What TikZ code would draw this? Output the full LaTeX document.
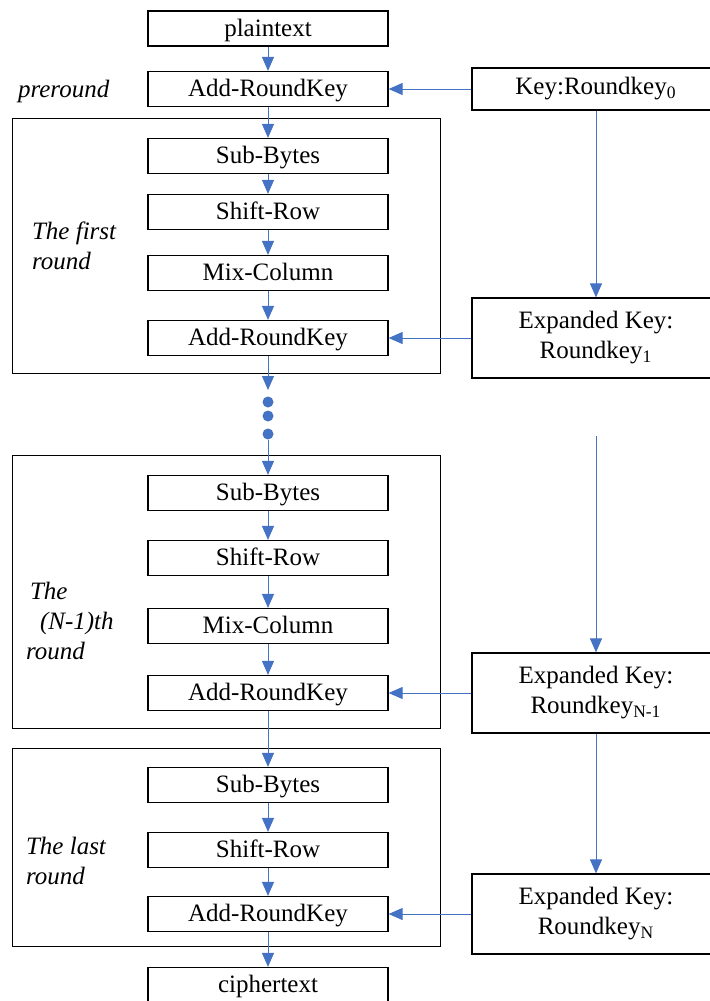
\documentclass[tikz,border=0pt]{standalone}
\usepackage{fontspec}
\setmainfont{Liberation Serif}
\usepackage{tikz}
\usetikzlibrary{arrows.meta,backgrounds}
\definecolor{flowblue}{RGB}{68,114,196}

\begin{document}
\begin{tikzpicture}[
  x=0.5pt, y=-0.5pt,
  font=\fontsize{12.5}{15}\selectfont,
  >={Triangle[width=6pt,length=7pt]},
  op/.style    ={rectangle, draw=black, line width=0.6pt, minimum width=120pt, minimum height=17.5pt, inner sep=0pt, text depth=1pt},
  keybox/.style={rectangle, draw=black, line width=0.6pt, minimum width=124pt, minimum height=40pt, align=center, inner sep=0pt},
  frame/.style ={rectangle, draw=black, line width=0.5pt, minimum width=214pt, inner sep=0pt},
  tag/.style   ={anchor=west, align=left, font=\fontsize{12.5}{15}\selectfont\itshape},
  flow/.style  ={->, draw=flowblue, line width=0.5pt},
  dot/.style   ={circle, fill=flowblue, minimum size=5.5pt, inner sep=0pt},
]
\useasboundingbox (0,0) rectangle (709,1001);
% round frames
\node[frame, minimum height=127.5pt] (rnd1) at (226,245.5) {};
\node[frame, minimum height=136.5pt] (rnd2) at (226,591.5) {};
\node[frame, minimum height=99pt]    (rnd3) at (226,847)   {};
% main column
\node[op] (plain) at (268,28.5) {plaintext};
\node[op] (ark0)  at (268,89)   {Add-RoundKey};
\node[op] (sb1)   at (268,156)  {Sub-Bytes};
\node[op] (sr1)   at (268,212)  {Shift-Row};
\node[op] (mc1)   at (268,273)  {Mix-Column};
\node[op] (ark1)  at (268,338)  {Add-RoundKey};
\node[op] (sb2)   at (268,493)  {Sub-Bytes};
\node[op] (sr2)   at (268,558)  {Shift-Row};
\node[op] (mc2)   at (268,626)  {Mix-Column};
\node[op] (ark2)  at (268,693)  {Add-RoundKey};
\node[op] (sb3)   at (268,785)  {Sub-Bytes};
\node[op] (sr3)   at (268,850)  {Shift-Row};
\node[op] (ark3)  at (268,914)  {Add-RoundKey};
\node[op] (cipher) at (268,985) {ciphertext};
% keys
\node[keybox, minimum height=21pt] (key0) at (596,89) {Key:Roundkey\textsubscript{0}};
\node[keybox] (key1) at (596,338) {Expanded Key:\\Roundkey\textsubscript{1}};
\node[keybox] (key2) at (596,693) {Expanded Key:\\Roundkey\textsubscript{N-1}};
\node[keybox] (key3) at (596,914) {Expanded Key:\\Roundkey\textsubscript{N}};
% round labels
\node[tag] (lpre)  at (11,91)  {preround};
\node[tag] (lfirst) at (25,246) {The first\\round};
\node[tag] (lmid)  at (19,621) {\hspace{2pt}The\\\hspace{7pt}(N-1)th\\round};
\node[tag] (llast) at (19,861) {The last\\round};
% skipped rounds
\coordinate (gap)  at (268,390);
\coordinate (kgap) at (596,436);
\foreach \i/\y in {1/402,2/416,3/434}
  \node[dot] (dot\i) at (268,\y) {};
% arrows
\draw[flow] (plain) -- (ark0);
\draw[flow] (ark0) -- (sb1);  \draw[flow] (sb1) -- (sr1);
\draw[flow] (sr1) -- (mc1);   \draw[flow] (mc1) -- (ark1);
\draw[flow] (ark1) -- (gap);  \draw[flow] (dot3) -- (sb2);
\draw[flow] (sb2) -- (sr2);   \draw[flow] (sr2) -- (mc2);
\draw[flow] (mc2) -- (ark2);  \draw[flow] (ark2) -- (sb3);
\draw[flow] (sb3) -- (sr3);   \draw[flow] (sr3) -- (ark3);
\draw[flow] (ark3) -- (cipher);
\draw[flow] (key0) -- (ark0); \draw[flow] (key1) -- (ark1);
\draw[flow] (key2) -- (ark2); \draw[flow] (key3) -- (ark3);
\draw[flow] (key0) -- (key1); \draw[flow] (kgap) -- (key2);
\draw[flow] (key2) -- (key3);
\end{tikzpicture}
\end{document}
